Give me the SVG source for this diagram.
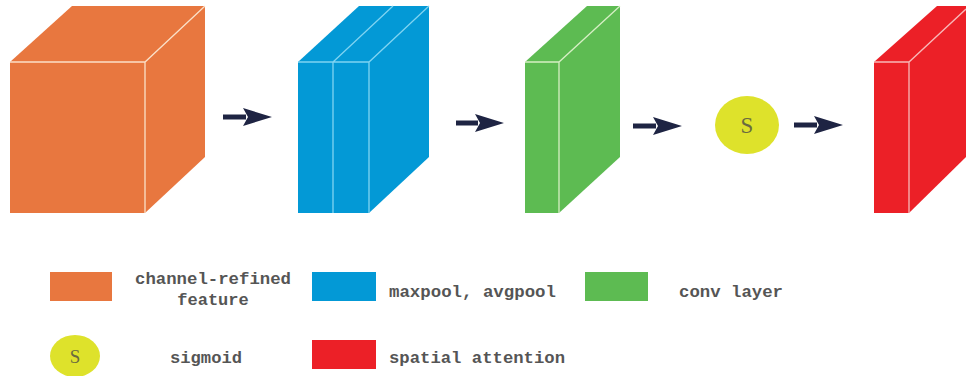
<svg xmlns="http://www.w3.org/2000/svg" width="966" height="376" viewBox="0 0 966 376">
<defs>
<style>
.o{fill:#E8773F}
.b{fill:#0399D6}
.g{fill:#5DBB52}
.r{fill:#EC2027}
.y{fill:#DEE22B}
.be{stroke:#7fd4f2;stroke-width:1.3;fill:none}
.ge{stroke:#d6efc4;stroke-width:1.3;fill:none}
.re{stroke:#f8b8b8;stroke-width:1.3;fill:none}
.oe{stroke:#fbe0c8;stroke-width:1.3;fill:none}
.lbl{font-family:"Liberation Mono","DejaVu Sans Mono",monospace;font-weight:bold;font-size:17px;fill:#555}
.s{font-family:"Liberation Serif","DejaVu Serif",serif;fill:#6a6a40;text-anchor:middle}
.conn{stroke:#1E2443;stroke-width:5;fill:none}
</style>
<marker id="ah" markerUnits="userSpaceOnUse" markerWidth="30" markerHeight="18" refX="3" refY="9" orient="auto" overflow="visible">
<path d="M0,0 L29,9 L0,18 L5,9 Z" fill="#1E2443"/>
</marker>
</defs>
<rect width="966" height="376" fill="#fff"/>

<g id="channel-refined">
<polygon class="o" points="10,62 72,6 205,6 205,157 145,213 10,213"/>
<path class="oe" d="M10,62 L145,62 L205,6 M145,62 L145,213"/>
</g>

<g id="pooling">
<polygon class="b" points="298,62 359,6 429,6 429,157 369,213 298,213"/>
<path class="be" d="M298,62 L369,62 L429,6 M333,62 L393,6 M333,62 L333,213 M369,62 L369,213"/>
</g>

<g id="conv">
<polygon class="g" points="525,62 587,6 620,6 620,157 559,213 525,213"/>
<path class="ge" d="M525,62 L559,62 L620,6 M559,62 L559,213"/>
</g>

<g id="sigmoid">
<ellipse class="y" cx="747" cy="125" rx="32" ry="29"/>
<text class="s" x="747" y="133" font-size="23">S</text>
</g>

<g id="spatial-attention">
<polygon class="r" points="874,62 937,6 966,6 966,157 909,213 874,213"/>
<path class="re" d="M874,62 L909,62 L966,9 M909,62 L909,213"/>
</g>

<g id="connectors">
<line class="conn" x1="223" y1="117" x2="246" y2="117" marker-end="url(#ah)"/>
<line class="conn" x1="456" y1="123" x2="478" y2="123" marker-end="url(#ah)"/>
<line class="conn" x1="633" y1="126" x2="656" y2="126" marker-end="url(#ah)"/>
<line class="conn" x1="794" y1="125" x2="817" y2="125" marker-end="url(#ah)"/>
</g>

<g id="legend">
<g id="legend-channel">
<rect class="o" x="50" y="272" width="62" height="29"/>
<text class="lbl" x="213" y="284" text-anchor="middle" textLength="156" lengthAdjust="spacingAndGlyphs">channel-refined</text>
<text class="lbl" x="213" y="305" text-anchor="middle">feature</text>
</g>
<g id="legend-pool">
<rect class="b" x="312" y="272" width="64" height="29"/>
<text class="lbl" x="389" y="297" textLength="167" lengthAdjust="spacingAndGlyphs">maxpool, avgpool</text>
</g>
<g id="legend-conv">
<rect class="g" x="585" y="272" width="63" height="29"/>
<text class="lbl" x="679" y="297" textLength="104" lengthAdjust="spacingAndGlyphs">conv layer</text>
</g>
<g id="legend-sigmoid">
<ellipse class="y" cx="75" cy="356" rx="25" ry="21"/>
<text class="s" x="75" y="363" font-size="19">S</text>
<text class="lbl" x="170" y="363" textLength="72" lengthAdjust="spacingAndGlyphs">sigmoid</text>
</g>
<g id="legend-spatial">
<rect class="r" x="312" y="340" width="64" height="29"/>
<text class="lbl" x="389" y="363" textLength="176" lengthAdjust="spacingAndGlyphs">spatial attention</text>
</g>
</g>
</svg>
